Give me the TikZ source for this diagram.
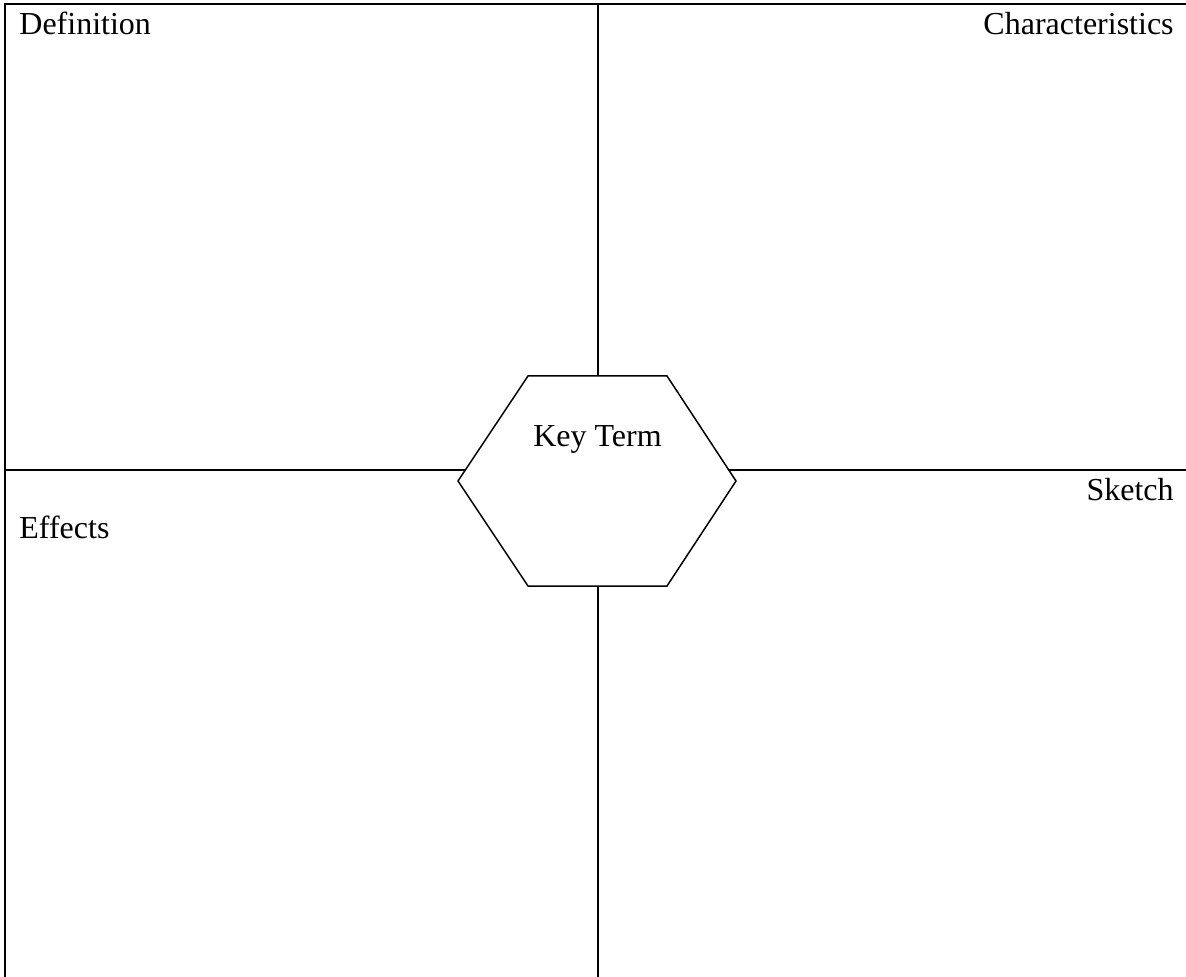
\documentclass[tikz,border=0pt]{standalone}
\usepackage{fontspec}
\setmainfont{Liberation Serif}
\begin{document}
\begin{tikzpicture}[x=0.5pt,y=-0.5pt,
  frame/.style={line width=1pt,black},
  hexline/.style={line width=0.75pt,black,fill=white},
  lbl/.style={font=\fontsize{16}{19}\selectfont,inner sep=0pt}]
\useasboundingbox (0,0) rectangle (1186,977);
% frame
\coordinate (tl) at (5,4);
\coordinate (tr) at (1186,4);
\coordinate (bl) at (5,977);
\coordinate (ml) at (5,470);
\coordinate (mr) at (1186,470);
\coordinate (mt) at (598,4);
\coordinate (mb) at (598,977);
\draw[frame] (bl) -- (tl) -- (tr);
\draw[frame] (ml) -- (mr);
\draw[frame] (mt) -- (mb);
% hexagon
\coordinate (h1) at (528,376);
\coordinate (h2) at (667,376);
\coordinate (h3) at (736,481);
\coordinate (h4) at (667,586);
\coordinate (h5) at (528,586);
\coordinate (h6) at (458,481);
\draw[hexline] (h1) -- (h2) -- (h3) -- (h4) -- (h5) -- (h6) -- cycle;
\node[lbl,anchor=base] (key) at (597.5,447) {Key Term};
% labels
\node[lbl,anchor=base west] (def) at (19,35) {Definition};
\node[lbl,anchor=base east] (char) at (1174,35) {Characteristics};
\node[lbl,anchor=base west] (eff) at (19,538) {Effects};
\node[lbl,anchor=base east] (sk) at (1174,501) {Sketch};
\end{tikzpicture}
\end{document}
